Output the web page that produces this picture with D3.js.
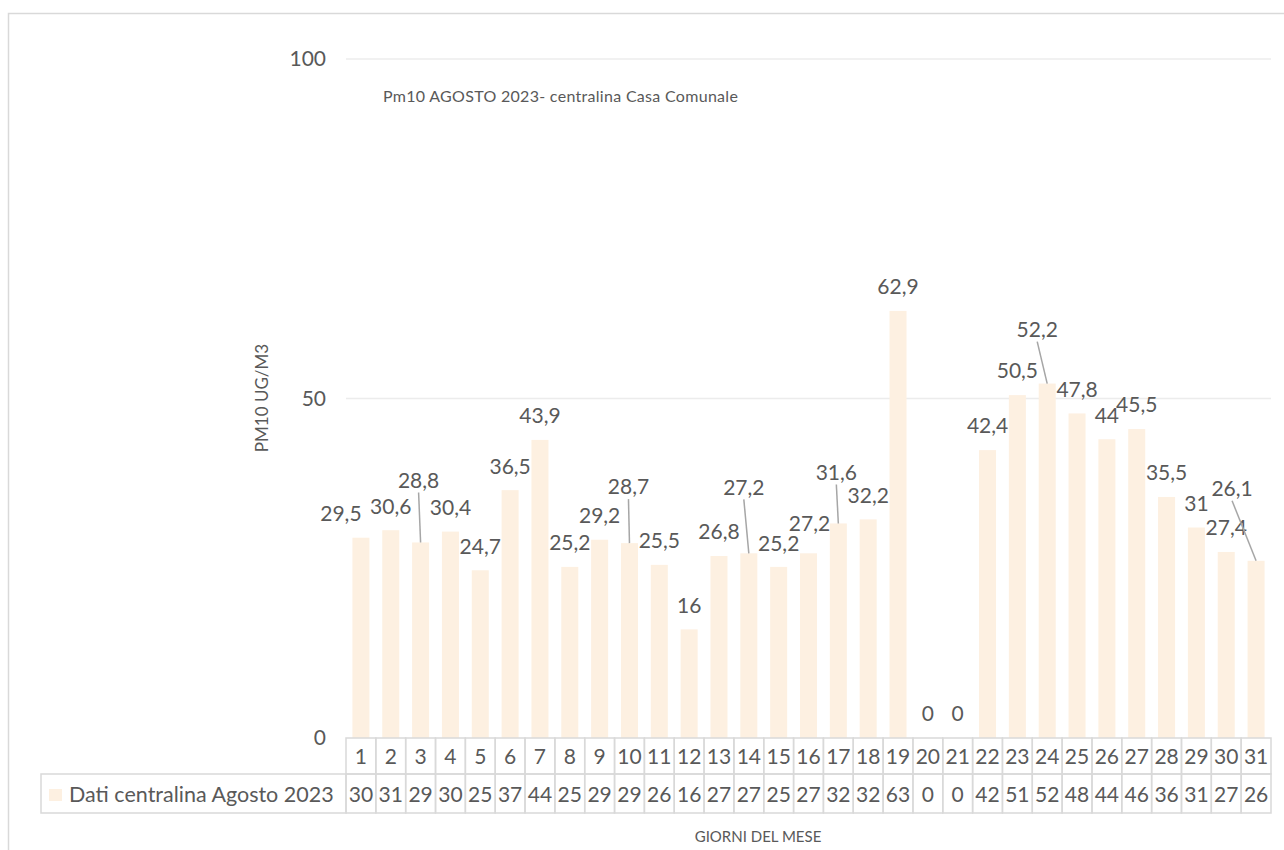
<!DOCTYPE html>
<html><head><meta charset="utf-8">
<script src="https://cdn.jsdelivr.net/npm/d3@7"></script>
<style>body{margin:0;background:#fff}svg{display:block}text{font-family:Lato,"Open Sans",sans-serif;fill:#595959}</style>
</head><body>
<svg id="c" width="1284" height="850"></svg>
<script>
const days = d3.range(1, 32).map(String);
const values = [29.5,30.6,28.8,30.4,24.7,36.5,43.9,25.2,29.2,28.7,25.5,16,26.8,27.2,25.2,27.2,31.6,32.2,62.9,0,0,42.4,50.5,52.2,47.8,44,45.5,35.5,31,27.4,26.1];
const tableValues = [30,31,29,30,25,37,44,25,29,29,26,16,27,27,25,27,32,32,63,0,0,42,51,52,48,44,46,36,31,27,26];
const yTicks = [0,50,100];
const seriesName = "Dati centralina Agosto 2023";
const title = "Pm10 AGOSTO 2023- centralina Casa Comunale";
const yTitle = "PM10 UG/M3";
const xTitle = "GIORNI DEL MESE";
// manually moved data labels (day -> [dx, dy, leader line])
const labelMoves = {"1":[-20,0,false],"3":[-2,-38,true],"10":[-1,-32,true],"14":[-5,-42,true],"15":[0,1,false],"16":[1,-6,false],"17":[-2,-27,true],"24":[-10,-30,true],"31":[-24,-48,true]};

const svg = d3.select("#c");
const bar = "#fdf0e1", grid = "#ececec", border = "#d9d9d9";
const FS = 21;
const x = d3.scaleBand().domain(days).range([346,1271]).paddingInner(0.43).paddingOuter(0.215);
const y = d3.scaleLinear().domain([0,100]).range([738,59]);

// outer frame
svg.append("rect").attr("x",8.5).attr("y",13.5).attr("width",1400).attr("height",1000).attr("fill","none").attr("stroke",border).attr("stroke-width",1.5);

// grid
svg.append("g").selectAll("line").data(yTicks.filter(d=>d>0)).join("line")
  .attr("x1",346).attr("x2",1271).attr("y1",d=>y(d)).attr("y2",d=>y(d)).attr("stroke",grid).attr("stroke-width",1.5);
svg.append("g").selectAll("text").data(yTicks).join("text")
  .attr("x",326).attr("y",d=>y(d)).attr("dy","0.35em").attr("text-anchor","end").attr("font-size",FS).text(d=>d);

// titles
svg.append("text").attr("x",383).attr("y",96).attr("dy","0.35em").attr("font-size",16).attr("letter-spacing","0.3px").text(title);
svg.append("text").attr("transform","translate(262,398) rotate(-90)").attr("text-anchor","middle").attr("dy","0.35em").attr("font-size",17).text(yTitle);
svg.append("text").attr("x",758).attr("y",837).attr("text-anchor","middle").attr("dy","0.35em").attr("font-size",15).text(xTitle);

// bars
svg.append("g").selectAll("rect").data(values).join("rect")
  .attr("x",(d,i)=>x(days[i])).attr("width",x.bandwidth())
  .attr("y",d=>y(d)).attr("height",d=>y(0)-y(d)).attr("fill",bar);

// labels
const fmt = v => String(v).replace(".",",");
const lab = svg.append("g");
values.forEach((v,i)=>{
  const cx = x(days[i]) + x.bandwidth()/2, top = y(v);
  const m = labelMoves[days[i]] || [0,0,false];
  const lx = cx + m[0], ly = top - 24 + m[1];
  if (m[2]) lab.append("line").attr("x1",lx).attr("y1",ly+12).attr("x2",cx).attr("y2",top).attr("stroke","#a6a6a6").attr("stroke-width",1.5);
  lab.append("text").attr("x",lx).attr("y",ly).attr("dy","0.35em").attr("text-anchor","middle").attr("font-size",FS).text(fmt(v));
});

// data table
const r0 = 738, r1 = 774, r2 = 813, step = x.step(), x0 = 346;
const t = svg.append("g");
days.forEach((d,i)=>{
  const cx0 = x0 + i*step;
  t.append("rect").attr("x",cx0).attr("y",r0).attr("width",step).attr("height",r1-r0).attr("fill","none").attr("stroke",border).attr("stroke-width",1.5);
  t.append("rect").attr("x",cx0).attr("y",r1).attr("width",step).attr("height",r2-r1).attr("fill","none").attr("stroke",border).attr("stroke-width",1.5);
  t.append("text").attr("x",cx0+step/2).attr("y",(r0+r1)/2+1).attr("dy","0.35em").attr("text-anchor","middle").attr("font-size",FS).text(d);
  t.append("text").attr("x",cx0+step/2).attr("y",(r1+r2)/2+1).attr("dy","0.35em").attr("text-anchor","middle").attr("font-size",FS).text(tableValues[i]);
});
t.append("rect").attr("x",41).attr("y",r1).attr("width",x0-41).attr("height",r2-r1).attr("fill","none").attr("stroke",border).attr("stroke-width",1.5);
t.append("rect").attr("x",49).attr("y",789).attr("width",13).attr("height",12).attr("fill",bar);
t.append("text").attr("x",69).attr("y",(r1+r2)/2+1).attr("dy","0.35em").attr("font-size",21.5).text(seriesName);
</script>
</body></html>
